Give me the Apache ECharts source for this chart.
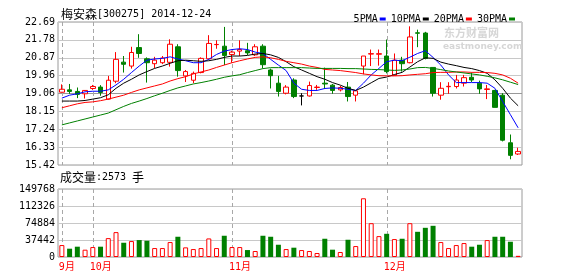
<!DOCTYPE html>
<html><head><meta charset="utf-8">
<script src="https://cdn.jsdelivr.net/npm/echarts@6/dist/echarts.min.js"></script>
<style>html,body{margin:0;padding:0;background:#fff}#c{width:578px;height:276px}</style>
</head><body><div id="c"></div>
<script>
const stockName = '梅安森';
const stockCode = '300275';
const tradeDate = '2014-12-24';
const volumeWord = '成交量';
const lastVolume = 2573;
const volumeUnit = '手';
const legendNames = ['5PMA', '10PMA', '20PMA', '30PMA'];

const dates = [
 '2014-09-25','2014-09-26','2014-09-29','2014-09-30',
 '2014-10-08','2014-10-09','2014-10-10',
 '2014-10-13','2014-10-14','2014-10-15','2014-10-16','2014-10-17',
 '2014-10-20','2014-10-21','2014-10-22','2014-10-23','2014-10-24',
 '2014-10-27','2014-10-28','2014-10-29','2014-10-30','2014-10-31',
 '2014-11-03','2014-11-04','2014-11-05','2014-11-06','2014-11-07',
 '2014-11-10','2014-11-11','2014-11-12','2014-11-13','2014-11-14',
 '2014-11-17','2014-11-18','2014-11-19','2014-11-20','2014-11-21',
 '2014-11-24','2014-11-25','2014-11-26','2014-11-27','2014-11-28',
 '2014-12-01','2014-12-02','2014-12-03','2014-12-04','2014-12-05',
 '2014-12-08','2014-12-09','2014-12-10','2014-12-11','2014-12-12',
 '2014-12-15','2014-12-16','2014-12-17','2014-12-18','2014-12-19',
 '2014-12-22','2014-12-23','2014-12-24'
];
const opens = [19.12,19.24,19.16,19.04,19.31,19.38,18.77,19.68,20.65,20.45,
 21.39,20.82,20.57,20.62,20.64,21.43,19.95,19.73,20.12,20.82,
 21.54,21.46,21.04,21.21,21.23,21.02,21.46,20.25,19.58,19.07,
 19.74,18.93,18.93,19.36,19.58,19.48,19.24,19.38,18.97,20.45,
 21.06,21.05,20.96,19.98,20.75,20.62,22.14,22.13,20.38,18.97,
 19.40,19.41,19.58,19.88,19.58,19.26,19.21,18.97,16.55,15.98];
const closes = [19.27,19.16,19.01,19.21,19.41,19.11,19.73,20.79,20.54,21.14,
 21.09,20.62,20.75,20.86,21.56,20.22,20.17,20.08,20.84,21.60,
 21.55,20.99,21.16,21.29,21.12,21.43,20.52,19.96,19.16,19.38,
 18.90,18.93,19.46,19.38,19.54,19.21,19.36,18.90,19.19,20.96,
 21.08,21.08,20.17,20.75,20.57,21.93,22.12,20.84,19.07,19.32,
 19.42,19.74,19.86,19.74,19.29,19.29,18.35,16.68,15.91,16.11];
const lows = [19.10,19.04,18.82,18.80,19.24,18.94,18.74,19.58,20.12,20.32,
 20.87,19.61,20.35,20.55,20.42,19.91,19.64,19.58,20.08,20.79,
 21.33,20.50,20.62,20.96,21.01,20.96,20.33,19.31,18.90,19.01,
 18.82,18.45,18.90,19.24,19.28,19.04,19.16,18.65,18.65,20.03,
 20.45,20.47,20.08,19.95,20.17,20.59,21.41,20.79,18.90,18.74,
 19.04,19.31,19.41,19.64,19.04,18.77,18.35,16.62,15.71,15.93];
const highs = [19.52,19.54,19.36,19.22,19.49,19.48,19.95,21.16,20.96,21.43,
 22.07,20.89,20.92,20.96,21.81,21.56,20.25,20.17,20.89,22.02,
 21.76,22.44,21.23,21.76,21.63,21.56,21.56,20.32,19.95,19.48,
 19.83,19.07,19.66,19.49,20.37,19.54,19.44,19.64,19.22,20.96,
 21.29,21.29,21.80,21.09,20.92,22.47,22.30,22.19,20.38,19.63,
 19.63,20.00,20.00,20.12,19.71,19.49,19.24,19.07,16.97,16.30];
const volumes = [26300,18300,22700,16100,21900,22700,41600,54800,31400,35100,
 37300,35800,19700,19700,32900,44600,21200,17500,19700,40900,
 19700,46800,21900,21900,15300,13200,46800,44600,27000,17500,
 20500,15300,13200,8800,40200,16100,11000,38000,24100,129300,
 74500,46000,51100,39500,40200,74500,55500,64300,68700,32900,
 19700,26300,30700,22700,27000,37300,44600,44600,33600,2573];
const ma5 = [18.82,18.97,19.04,19.14,19.17,19.17,19.24,19.49,19.78,20.12,
 20.45,20.75,20.81,20.84,20.92,20.81,20.72,20.62,20.62,20.79,
 21.04,21.21,21.29,21.33,21.29,21.16,21.09,20.79,20.50,20.22,
 19.58,19.27,19.21,19.21,19.31,19.34,19.32,19.27,19.21,19.58,
 20.00,20.33,20.67,20.75,20.72,20.90,21.09,21.23,20.89,20.50,
 20.00,19.61,19.61,19.61,19.61,19.58,19.32,18.65,17.98,17.31];
const ma10 = [18.67,18.67,18.67,18.70,18.77,18.84,18.99,19.32,19.58,19.78,
 20.00,20.17,20.33,20.45,20.59,20.72,20.75,20.72,20.69,20.72,
 20.79,20.89,20.96,20.96,20.99,21.06,21.09,21.02,20.89,20.67,
 20.42,20.25,20.08,19.91,19.78,19.61,19.48,19.32,19.21,19.38,
 19.60,19.82,19.89,20.02,20.13,20.40,20.67,20.87,20.84,20.65,
 20.55,20.47,20.38,20.32,20.22,20.08,19.75,19.32,18.82,18.43];
const ma20 = [18.33,18.43,18.53,18.60,18.63,18.69,18.77,18.87,18.97,19.11,
 19.24,19.34,19.44,19.54,19.69,19.81,19.91,20.05,20.15,20.25,
 20.38,20.50,20.62,20.72,20.81,20.89,20.92,20.87,20.79,20.69,
 20.62,20.55,20.45,20.38,20.28,20.25,20.22,20.17,20.12,20.05,
 20.00,19.96,19.95,19.95,19.96,20.00,20.03,20.06,20.12,20.13,
 20.13,20.15,20.15,20.13,20.13,20.12,20.08,20.00,19.83,19.58];
const ma30 = [17.46,17.56,17.66,17.76,17.86,17.96,18.06,18.23,18.40,18.55,
 18.67,18.80,18.94,19.07,19.21,19.34,19.44,19.54,19.61,19.69,
 19.78,19.88,19.95,20.01,20.12,20.22,20.32,20.37,20.37,20.37,
 20.37,20.37,20.35,20.33,20.33,20.33,20.33,20.32,20.32,20.30,
 20.28,20.27,20.25,20.23,20.25,20.30,20.37,20.38,20.33,20.27,
 20.20,20.15,20.10,20.05,20.00,19.93,19.85,19.75,19.63,19.51];
const priceTicks = ['15.42','16.33','17.24','18.15','19.06','19.96','20.87','21.78','22.69'];
const volumeTicks = [0, 37442, 74884, 112326, 149768];

const priceTickValues = priceTicks.map(Number);
const mono = '"DejaVu Sans Mono", "Noto Sans CJK SC", monospace';
const cjk = '"Noto Sans CJK SC", sans-serif';
const UP = '#ff0000', DOWN = '#008000';
const isMonthStart = (i) => i === 0 || dates[i].slice(5, 7) !== dates[i - 1].slice(5, 7);

const candleData = dates.map((d, i) => {
  const v = [opens[i], closes[i], lows[i], highs[i]];
  if (opens[i] === closes[i]) return { value: v, itemStyle: { color: '#000', borderColor: '#000', color0: '#000', borderColor0: '#000' } };
  return v;
});
const volData = volumes.map((v, i) => closes[i] >= opens[i]
  ? { value: v, itemStyle: { color: '#fff', borderColor: UP, borderWidth: 1 } }
  : { value: v, itemStyle: { color: DOWN } });
const monthIdx = dates.map((d, i) => i).filter(isMonthStart);

function monthLineSeries(gridIdx, baseValue) {
  return {
    type: 'custom', name: 'month' + gridIdx, xAxisIndex: gridIdx, yAxisIndex: gridIdx, z: 1, silent: true,
    data: monthIdx.map(i => [i, baseValue]),
    encode: { x: 0, y: 1 },
    renderItem: function (params, api) {
      const x = Math.round(api.coord([api.value(0), api.value(1)])[0]) + 0.5;
      const cs = params.coordSys;
      return {
        type: 'line',
        shape: { x1: x, y1: cs.y, x2: x, y2: cs.y + cs.height },
        style: { stroke: '#a8a8a8', lineWidth: 1, lineDash: [4, 3], fill: null }
      };
    }
  };
}
const maColors = ['#0000ff', '#000000', '#ff0000', '#008000'];
const maData = [ma5, ma10, ma20, ma30];

const chart = echarts.init(document.getElementById('c'), null, { renderer: 'canvas', width: 578, height: 276 });
const option = {
  animation: false,
  textStyle: { fontFamily: mono },
  legend: {
    data: legendNames, right: 58, top: 9, align: 'right', icon: 'rect',
    itemWidth: 6, itemHeight: 3, itemGap: 5, selectedMode: false,
    textStyle: { fontFamily: mono, fontSize: 10, color: '#000', padding: [0, -3, 0, 0] }
  },
  graphic: [
    { type: 'text', left: 444, top: 27, z: 0, style: { text: '东方财富网', font: 'bold 11px "Noto Sans CJK SC"', fill: '#d6d6d6' } },
    { type: 'text', left: 443, top: 42, z: 0, style: { text: 'eastmoney.com', font: 'bold 9px "DejaVu Sans"', fill: '#d6d6d6' } },
    { type: 'text', left: 61, top: 8, style: {
        text: '{c|' + stockName + '}{a|[' + stockCode + '] ' + tradeDate + '}',
        rich: { c: { fontSize: 12, fontFamily: cjk, fill: '#000' }, a: { fontSize: 10, fontFamily: mono, fill: '#000' } } } },
    { type: 'text', left: 60, top: 171, style: {
        text: '{c|' + volumeWord + '}{a|:' + lastVolume + ' }{c|' + volumeUnit + '}',
        rich: { c: { fontSize: 12, fontFamily: cjk, fill: '#000' }, a: { fontSize: 10, fontFamily: mono, fill: '#000' } } } }
  ],
  grid: [
    { left: 58, right: 56, top: 22, height: 143, show: true, borderColor: '#9a9a9a', borderWidth: 1 },
    { left: 58, right: 56, top: 189, height: 68, show: true, borderColor: '#9a9a9a', borderWidth: 1 }
  ],
  xAxis: [
    { type: 'category', data: dates, gridIndex: 0, boundaryGap: true,
      axisLine: { show: false }, axisTick: { show: false }, axisLabel: { show: false }, splitLine: { show: false } },
    { type: 'category', data: dates, gridIndex: 1, boundaryGap: true,
      axisLine: { show: false }, axisTick: { show: false }, splitLine: { show: false },
      axisLabel: { interval: (i) => isMonthStart(i), formatter: (v) => parseInt(v.slice(5, 7), 10) + '月',
        color: '#ff0000', fontFamily: mono, fontSize: 10, align: 'left', margin: 5, padding: [0, 0, 0, -3] } }
  ],
  yAxis: [
    { type: 'value', gridIndex: 0, min: priceTickValues[0], max: priceTickValues[priceTickValues.length - 1],
      axisLine: { show: false },
      axisTick: { show: false, customValues: priceTickValues },
      axisLabel: { customValues: priceTickValues, formatter: (v) => v.toFixed(2), color: '#000',
        fontFamily: mono, fontSize: 10, margin: 3, padding: [0, 0, 5, 0] },
      splitLine: { show: true, lineStyle: { width: 1, color: ['#c8c8c8','#c8c8c8','#c8c8c8','#c8c8c8','#999999','#c8c8c8','#c8c8c8','#c8c8c8','#c8c8c8'] } } },
    { type: 'value', gridIndex: 1, min: volumeTicks[0], max: volumeTicks[volumeTicks.length - 1],
      interval: volumeTicks[1] - volumeTicks[0],
      axisLine: { show: false }, axisTick: { show: false },
      axisLabel: { formatter: (v) => String(Math.round(v)), color: '#000', fontFamily: mono, fontSize: 10, margin: 3, padding: [5, 0, 0, 0] },
      splitLine: { show: true, lineStyle: { width: 1, color: '#c8c8c8' } } }
  ],
  series: [
    monthLineSeries(0, priceTickValues[0]),
    monthLineSeries(1, volumeTicks[0]),
    { type: 'candlestick', name: 'K', xAxisIndex: 0, yAxisIndex: 0, data: candleData, barWidth: 5, z: 3,
      itemStyle: { color: '#ffffff', color0: DOWN, borderColor: UP, borderColor0: DOWN, borderWidth: 1 } },
    ...legendNames.map((n, k) => ({
      type: 'line', name: n, xAxisIndex: 0, yAxisIndex: 0, data: maData[k], color: maColors[k],
      showSymbol: false, symbol: 'none', lineStyle: { width: 1, color: maColors[k] }, z: 4
    })),
    { type: 'bar', name: 'VOL', xAxisIndex: 1, yAxisIndex: 1, data: volData, barWidth: 5, z: 3 }
  ]
};
chart.setOption(option);
</script></body></html>
